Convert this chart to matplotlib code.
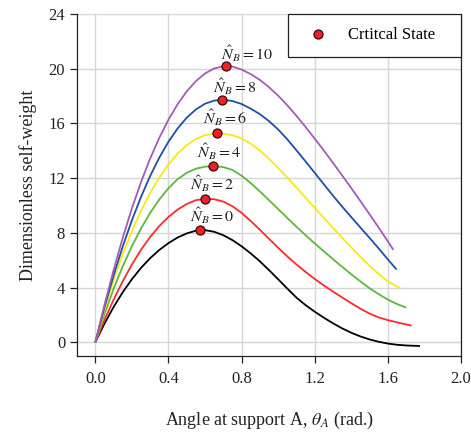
import matplotlib
matplotlib.use("Agg")
import matplotlib.pyplot as plt

plt.rcParams['font.family'] = ['Liberation Serif', 'DejaVu Serif']
plt.rcParams['mathtext.fontset'] = 'stix'

# ---- data ----
theta_grid = [0.00, 0.05, 0.10, 0.15, 0.20, 0.25, 0.30, 0.35, 0.40, 0.45, 0.50,
              0.55, 0.60, 0.65, 0.70, 0.75, 0.80, 0.85, 0.90, 0.95, 1.00, 1.05,
              1.10, 1.15, 1.20, 1.25, 1.30, 1.35, 1.40, 1.45, 1.50, 1.55, 1.60]

theta_N0 = theta_grid + [1.65, 1.70, 1.776]
w_N0 = [0.00, 1.36, 2.58, 3.66, 4.61, 5.44, 6.15, 6.75, 7.25, 7.66, 7.96,
        8.16, 8.20, 8.08, 7.83, 7.47, 7.02, 6.50, 5.92, 5.28, 4.61, 3.93,
        3.27, 2.72, 2.24, 1.80, 1.39, 1.02, 0.70, 0.43, 0.21, 0.04, -0.09,
        -0.18, -0.23, -0.27]

theta_N2 = theta_grid + [1.65, 1.70, 1.73]
w_N2 = [0.00, 1.63, 3.11, 4.46, 5.68, 6.76, 7.70, 8.50, 9.16, 9.70, 10.11,
        10.39, 10.50, 10.46, 10.29, 9.95, 9.46, 8.87, 8.23, 7.57, 6.91, 6.28,
        5.69, 5.15, 4.63, 4.16, 3.71, 3.28, 2.86, 2.46, 2.10, 1.82, 1.62,
        1.46, 1.31, 1.22]

theta_N4 = theta_grid + [1.65, 1.70]
w_N4 = [0.00, 2.05, 3.90, 5.55, 7.02, 8.32, 9.46, 10.44, 11.26, 11.92, 12.39,
        12.69, 12.84, 12.87, 12.81, 12.60, 12.18, 11.64, 11.03, 10.39, 9.74, 9.09,
        8.45, 7.83, 7.23, 6.65, 6.08, 5.52, 4.97, 4.45, 3.95, 3.52, 3.12,
        2.80, 2.54]

theta_N6 = theta_grid + [1.667]
w_N6 = [0.00, 2.39, 4.53, 6.44, 8.12, 9.61, 10.92, 12.04, 13.00, 13.79, 14.41,
        14.86, 15.14, 15.26, 15.24, 15.14, 14.90, 14.52, 14.02, 13.42, 12.75, 12.04,
        11.31, 10.57, 9.83, 9.09, 8.36, 7.64, 6.93, 6.24, 5.59, 5.00, 4.45,
        3.95]

theta_N8 = theta_grid + [1.648]
w_N8 = [0.00, 2.55, 4.88, 7.00, 8.91, 10.63, 12.16, 13.50, 14.66, 15.63, 16.42,
        17.02, 17.44, 17.67, 17.73, 17.64, 17.42, 17.08, 16.68, 16.17, 15.56, 14.84,
        14.04, 13.22, 12.39, 11.55, 10.72, 9.92, 9.15, 8.39, 7.63, 6.86, 6.06,
        5.32]

theta_N10 = theta_grid[:-1] + [1.60, 1.63]
w_N10 = [0.00, 2.72, 5.27, 7.63, 9.78, 11.71, 13.43, 14.95, 16.27, 17.40, 18.34,
         19.09, 19.65, 20.02, 20.18, 20.16, 19.94, 19.61, 19.18, 18.65, 18.03, 17.33,
         16.56, 15.74, 14.89, 14.02, 13.12, 12.20, 11.27, 10.32, 9.36, 8.38, 7.38,
         6.76]

N_values = [0, 2, 4, 6, 8, 10]
peak_theta = [0.57, 0.60, 0.642, 0.668, 0.693, 0.717]
peak_w = [8.22, 10.50, 12.87, 15.27, 17.73, 20.20]

x_ticks = [0.0, 0.4, 0.8, 1.2, 1.6, 2.0]
y_ticks = [0, 4, 8, 12, 16, 20, 24]

# ---- styling ----
colors = ['#000000', '#ff2a2a', '#5cb83c', '#f5ea14', '#1f4fa8', '#a35cb5']
label_offsets = [(-7, 10.5), (-10.8, 11), (-11.5, 10.3), (-10.6, 11), (-6.7, 9.4), (-3.6, 9.1)]

fig = plt.figure(figsize=(4.71, 4.32), dpi=100)
ax = fig.add_axes([77/471, 1-356/432, 384/471, 342/432])

series = [(theta_N0, w_N0), (theta_N2, w_N2), (theta_N4, w_N4),
          (theta_N6, w_N6), (theta_N8, w_N8), (theta_N10, w_N10)]
for (t, w), c in zip(series, colors):
    ax.plot(t, w, color=c, lw=1.3, zorder=3, solid_capstyle='butt',
            solid_joinstyle='round')

ax.plot(peak_theta, peak_w, linestyle='none', marker='o', markersize=6.5,
        markerfacecolor='#ee2226', markeredgecolor='#3a0a0a', markeredgewidth=0.9,
        zorder=5, label='Crtitcal State')

for n, px, py, off in zip(N_values, peak_theta, peak_w, label_offsets):
    ax.annotate(r'$\hat{N}_B = %d$' % n, xy=(px, py), xytext=off,
                textcoords='offset points', ha='left', va='center',
                fontsize=11.5, color='#222222', zorder=6)

ax.set_xlim(-0.1, 2.0)
ax.set_ylim(-1.0, 24.0)
ax.set_xticks(x_ticks)
ax.set_xticklabels(['%.1f' % v for v in x_ticks])
ax.set_yticks(y_ticks)
ax.set_yticklabels([str(v) for v in y_ticks])

ax.grid(True, color='#d6d6d6', lw=1.0, zorder=0)
ax.set_axisbelow(True)
ax.spines['top'].set_visible(False)
for s in ['left', 'bottom', 'right']:
    ax.spines[s].set_linewidth(0.9)
    ax.spines[s].set_color('#222222')

ax.tick_params(axis='both', direction='out', length=5, width=0.9,
               color='#222222', labelsize=12, labelcolor='#222222')
ax.tick_params(axis='x', pad=6)
ax.tick_params(axis='y', pad=3.5)

ax.set_xlabel(r'Angle at support A, $\theta_A$ (rad.)', fontsize=13,
              labelpad=16, color='#222222')
ax.set_ylabel('Dimensionless self-weight', fontsize=13, labelpad=8,
              color='#222222')

leg = ax.legend(loc='upper right', bbox_to_anchor=(0.549, 0.5, 0.451, 0.5),
                mode='expand', fontsize=12, frameon=True, fancybox=False,
                framealpha=1.0, edgecolor='#222222', borderpad=0.8,
                handlelength=2.0, handletextpad=0.8, borderaxespad=0.0)
leg.get_frame().set_linewidth(0.9)

fig.savefig('out.png', dpi=100)
